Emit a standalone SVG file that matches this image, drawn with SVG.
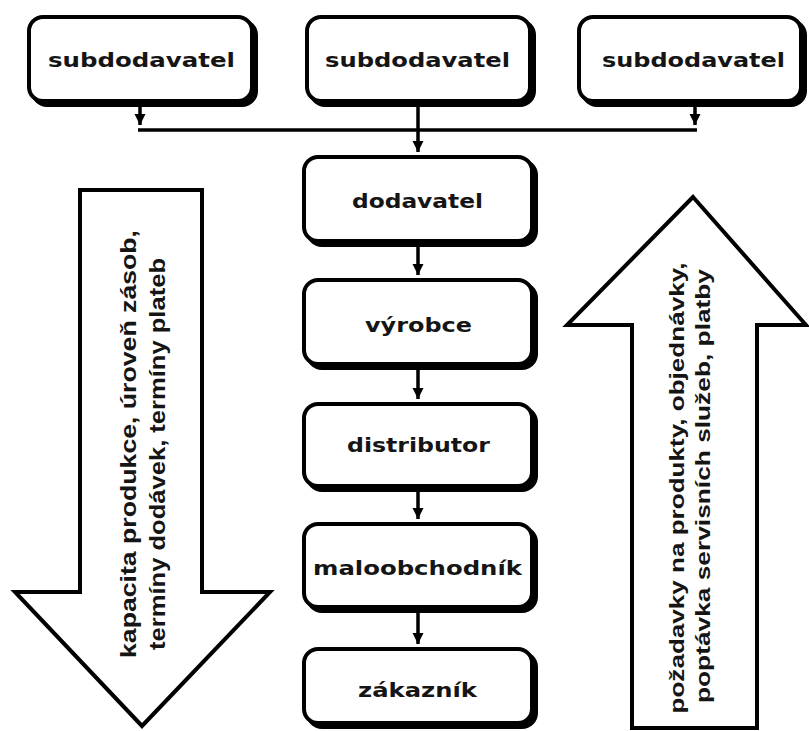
<svg xmlns="http://www.w3.org/2000/svg" width="809" height="731" viewBox="0 0 809 731">
<style>
.sh{fill:#000;stroke:#000;stroke-width:4}
.bx{fill:#fff;stroke:#000;stroke-width:4}
.lb{font-family:"DejaVu Sans","Liberation Sans",sans-serif;font-weight:bold;font-size:20px;fill:#151515;text-anchor:middle}
.conn{stroke:#000;stroke-width:3.5;fill:none}
.big{fill:#fff;stroke:#000;stroke-width:4;stroke-linejoin:miter}
.at{font-family:"Liberation Sans","DejaVu Sans",sans-serif;font-weight:bold;fill:#151515;text-anchor:middle}
</style>
<defs>
<marker id="ah" markerUnits="userSpaceOnUse" markerWidth="12" markerHeight="12" refX="11" refY="6" orient="auto">
<path d="M0,0.5 L11,6 L0,11.5 z" fill="#000"/>
</marker>
</defs>
<rect width="809" height="731" fill="#fff"/>

<g id="arrow-down">
<polygon class="big" points="80,190 202,190 202,592 270,592 142,726 15,592 80,592"/>
<text class="at" font-size="22" transform="translate(136,444) rotate(-90)" textLength="428" lengthAdjust="spacingAndGlyphs">kapacita produkce, úroveň zásob,</text>
<text class="at" font-size="22" transform="translate(165,454) rotate(-90)" textLength="392" lengthAdjust="spacingAndGlyphs">termíny dodávek, termíny plateb</text>
</g>

<g id="arrow-up">
<polygon class="big" points="693,197 806,325 757,325 757,728 632,728 632,325 567,325"/>
<text class="at" font-size="20" transform="translate(684,488) rotate(-90)" textLength="451" lengthAdjust="spacingAndGlyphs">požadavky na produkty, objednávky,</text>
<text class="at" font-size="20" transform="translate(710,486) rotate(-90)" textLength="434" lengthAdjust="spacingAndGlyphs">poptávka servisních služeb, platby</text>
</g>

<g id="connectors">
<path class="conn" d="M140,107 V125" marker-end="url(#ah)"/>
<path class="conn" d="M695,107 V125" marker-end="url(#ah)"/>
<path class="conn" d="M138,130 H697"/>
<path class="conn" d="M418,107 V152" marker-end="url(#ah)"/>
<path class="conn" d="M418,247 V275" marker-end="url(#ah)"/>
<path class="conn" d="M418,370 V399" marker-end="url(#ah)"/>
<path class="conn" d="M418,492 V519" marker-end="url(#ah)"/>
<path class="conn" d="M418,613 V644" marker-end="url(#ah)"/>
</g>

<g id="subdodavatel-1">
<rect class="sh" x="33" y="21" width="223" height="84" rx="14"/>
<rect class="bx" x="29" y="17" width="223" height="84" rx="14"/>
<text class="lb" x="141.5" y="67" textLength="187" lengthAdjust="spacingAndGlyphs">subdodavatel</text>
</g>
<g id="subdodavatel-2">
<rect class="sh" x="311" y="21" width="223" height="84" rx="14"/>
<rect class="bx" x="307" y="17" width="223" height="84" rx="14"/>
<text class="lb" x="417.5" y="67" textLength="185" lengthAdjust="spacingAndGlyphs">subdodavatel</text>
</g>
<g id="subdodavatel-3">
<rect class="sh" x="583" y="21" width="222" height="84" rx="14"/>
<rect class="bx" x="579" y="17" width="222" height="84" rx="14"/>
<text class="lb" x="693.5" y="67" textLength="183" lengthAdjust="spacingAndGlyphs">subdodavatel</text>
</g>

<g id="dodavatel">
<rect class="sh" x="308" y="161" width="228" height="84" rx="14"/>
<rect class="bx" x="304" y="157" width="228" height="84" rx="14"/>
<text class="lb" x="417.5" y="208" textLength="131" lengthAdjust="spacingAndGlyphs">dodavatel</text>
</g>
<g id="vyrobce">
<rect class="sh" x="308" y="284" width="228" height="84" rx="14"/>
<rect class="bx" x="304" y="280" width="228" height="84" rx="14"/>
<text class="lb" x="418.5" y="332" textLength="107" lengthAdjust="spacingAndGlyphs">výrobce</text>
</g>
<g id="distributor">
<rect class="sh" x="308" y="408" width="228" height="82" rx="14"/>
<rect class="bx" x="304" y="404" width="228" height="82" rx="14"/>
<text class="lb" x="418.5" y="452" textLength="143" lengthAdjust="spacingAndGlyphs">distributor</text>
</g>
<g id="maloobchodnik">
<rect class="sh" x="308" y="528" width="228" height="83" rx="14"/>
<rect class="bx" x="304" y="524" width="228" height="83" rx="14"/>
<text class="lb" x="417.5" y="575" textLength="209" lengthAdjust="spacingAndGlyphs">maloobchodník</text>
</g>
<g id="zakaznik">
<rect class="sh" x="308" y="653" width="228" height="74" rx="14"/>
<rect class="bx" x="304" y="649" width="228" height="74" rx="14"/>
<text class="lb" x="417.5" y="697" textLength="119" lengthAdjust="spacingAndGlyphs">zákazník</text>
</g>
</svg>
